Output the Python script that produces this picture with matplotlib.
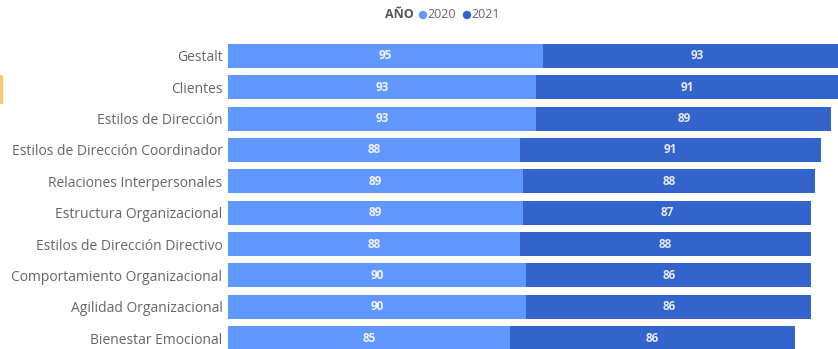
import matplotlib
matplotlib.use('Agg')
import matplotlib.pyplot as plt
from matplotlib.patches import Rectangle, Ellipse

plt.rcParams['font.family'] = ['Open Sans', 'DejaVu Sans']

# datos
categorias = ['Gestalt', 'Clientes', 'Estilos de Dirección',
              'Estilos de Dirección Coordinador', 'Relaciones Interpersonales',
              'Estructura Organizacional', 'Estilos de Dirección Directivo',
              'Comportamiento Organizacional', 'Agilidad Organizacional',
              'Bienestar Emocional']
v2020 = [95, 93, 93, 88, 89, 89, 88, 90, 90, 85]
v2021 = [93, 91, 89, 91, 88, 87, 88, 86, 86, 86]
series = ['2020', '2021']
colores = ['#6098FF', '#3264CC']

W, H = 838, 349
fig = plt.figure(figsize=(W / 100, H / 100), dpi=100)
ax = fig.add_axes([228 / W, 0, 610 / W, (H - 40) / H])

y = list(range(len(categorias)))
ax.barh(y, v2020, height=0.77, color=colores[0])
ax.barh(y, v2021, left=v2020, height=0.77, color=colores[1])

# etiquetas de valor
for i in y:
    ax.text(v2020[i] / 2, i, str(v2020[i]), ha='center', va='center',
            color='#F2F4FF', fontsize=8.5, fontweight='bold')
    ax.text(v2020[i] + v2021[i] / 2, i, str(v2021[i]), ha='center', va='center',
            color='#E6EAFF', fontsize=8.5, fontweight='bold')

ax.set_xlim(0, 184)
ax.set_ylim(9.35, -0.51)
ax.set_yticks(y)
ax.set_yticklabels(categorias, fontsize=10, color='#666666')
ax.tick_params(axis='y', length=0, pad=4)
ax.set_xticks([])
for s in ax.spines.values():
    s.set_visible(False)

# leyenda
yl = 1 - 15 / H
fig.text(385 / W, yl, 'AÑO', ha='left', va='center', fontsize=9,
         fontweight='bold', color='#555555')
xs = [423, 467]
for k in range(2):
    fig.patches.append(Ellipse((xs[k] / W, yl), 7 / W, 7 / H, color=colores[k],
                               transform=fig.transFigure, figure=fig))
    fig.text((xs[k] + 4) / W, yl, series[k], ha='left', va='center',
             fontsize=9, color='#666666')

# marca naranja en el borde
fig.patches.append(Rectangle((0, 1 - 103 / H), 2 / W, 28 / H, color='#F5B94A',
                             alpha=0.7, transform=fig.transFigure, figure=fig))

fig.savefig('out.png', dpi=100)
